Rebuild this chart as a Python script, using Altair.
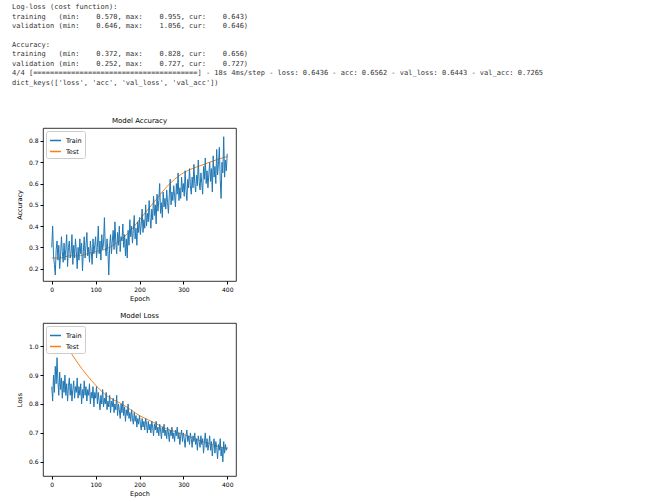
import altair as alt
import pandas as pd

# ---- training history (every 2 epochs) ----
train_epochs = list(range(0, 401, 2))
train_acc = [
    0.30, 0.40, 0.26, 0.22, 0.17, 0.29, 0.33, 0.24, 0.31, 0.20,
    0.26, 0.35, 0.28, 0.23, 0.32, 0.24, 0.29, 0.36, 0.21, 0.30,
    0.33, 0.25, 0.27, 0.36, 0.22, 0.31, 0.25, 0.34, 0.28, 0.20,
    0.30, 0.24, 0.34, 0.27, 0.32, 0.19, 0.28, 0.35, 0.25, 0.31,
    0.37, 0.26, 0.30, 0.23, 0.33, 0.28, 0.22, 0.34, 0.27, 0.31,
    0.35, 0.25, 0.30, 0.40, 0.27, 0.33, 0.24, 0.36, 0.29, 0.32,
    0.44, 0.30, 0.26, 0.34, 0.28, 0.17, 0.31, 0.36, 0.27, 0.33,
    0.38, 0.29, 0.42, 0.32, 0.27, 0.37, 0.31, 0.40, 0.28, 0.35,
    0.33, 0.41, 0.30, 0.36, 0.26, 0.34, 0.25, 0.38, 0.31, 0.43,
    0.35, 0.40, 0.32, 0.38, 0.45, 0.34, 0.39, 0.31, 0.42, 0.37,
    0.44, 0.36, 0.41, 0.48, 0.37, 0.43, 0.39, 0.50, 0.40, 0.46,
    0.42, 0.52, 0.44, 0.39, 0.48, 0.43, 0.54, 0.45, 0.50, 0.41,
    0.55, 0.47, 0.52, 0.60, 0.46, 0.51, 0.44, 0.56, 0.49, 0.53,
    0.48, 0.57, 0.51, 0.46, 0.55, 0.62, 0.50, 0.56, 0.52, 0.59,
    0.54, 0.49, 0.60, 0.55, 0.65, 0.52, 0.58, 0.53, 0.63, 0.56,
    0.60, 0.54, 0.66, 0.57, 0.52, 0.62, 0.58, 0.67, 0.59, 0.55,
    0.63, 0.58, 0.69, 0.60, 0.56, 0.64, 0.59, 0.71, 0.61, 0.57,
    0.65, 0.60, 0.55, 0.68, 0.62, 0.72, 0.60, 0.66, 0.58, 0.64,
    0.70, 0.61, 0.67, 0.56, 0.73, 0.63, 0.68, 0.60, 0.76, 0.64,
    0.69, 0.77, 0.62, 0.53, 0.70, 0.65, 0.82, 0.63, 0.71, 0.66,
    0.74,
]
train_loss = [
    0.86, 0.81, 0.90, 0.84, 0.93, 0.87, 0.96, 0.88, 0.83, 0.91,
    0.85, 0.89, 0.82, 0.88, 0.84, 0.90, 0.83, 0.87, 0.81, 0.86,
    0.89, 0.83, 0.87, 0.81, 0.85, 0.88, 0.82, 0.86, 0.84, 0.89,
    0.82, 0.86, 0.83, 0.87, 0.80, 0.85, 0.82, 0.88, 0.83, 0.86,
    0.81, 0.85, 0.83, 0.87, 0.80, 0.84, 0.82, 0.86, 0.79, 0.84,
    0.82, 0.86, 0.80, 0.84, 0.81, 0.78, 0.83, 0.80, 0.85, 0.79,
    0.82, 0.80, 0.84, 0.78, 0.81, 0.79, 0.83, 0.77, 0.81, 0.79,
    0.82, 0.77, 0.80, 0.78, 0.83, 0.76, 0.80, 0.78, 0.75, 0.80,
    0.77, 0.81, 0.76, 0.79, 0.74, 0.78, 0.76, 0.80, 0.75, 0.77,
    0.74, 0.78, 0.75, 0.73, 0.77, 0.74, 0.76, 0.72, 0.75, 0.73,
    0.76, 0.73, 0.71, 0.75, 0.72, 0.74, 0.71, 0.75, 0.73, 0.70,
    0.74, 0.71, 0.73, 0.70, 0.74, 0.72, 0.69, 0.73, 0.71, 0.74,
    0.70, 0.72, 0.69, 0.73, 0.71, 0.68, 0.72, 0.70, 0.73, 0.69,
    0.71, 0.68, 0.72, 0.70, 0.67, 0.71, 0.69, 0.72, 0.68, 0.70,
    0.67, 0.71, 0.69, 0.72, 0.68, 0.70, 0.66, 0.69, 0.71, 0.67,
    0.70, 0.68, 0.65, 0.69, 0.71, 0.67, 0.69, 0.66, 0.70, 0.68,
    0.65, 0.69, 0.67, 0.70, 0.66, 0.68, 0.64, 0.69, 0.67, 0.65,
    0.69, 0.66, 0.68, 0.63, 0.67, 0.70, 0.65, 0.68, 0.64, 0.66,
    0.69, 0.64, 0.67, 0.62, 0.66, 0.68, 0.63, 0.67, 0.65, 0.61,
    0.66, 0.64, 0.68, 0.62, 0.65, 0.60, 0.67, 0.63, 0.66, 0.64,
    0.65,
]

# ---- validation history (smooth, every 20 epochs) ----
val_epochs = list(range(0, 401, 20))
val_acc = [
    0.25, 0.25, 0.26, 0.26, 0.27, 0.28, 0.29, 0.31, 0.34, 0.38,
    0.43, 0.48, 0.53, 0.58, 0.62, 0.65, 0.67, 0.685, 0.70, 0.715,
    0.727,
]
val_loss = [
    1.056, 1.03, 0.985, 0.94, 0.90, 0.865, 0.835, 0.815, 0.80, 0.78,
    0.76, 0.745, 0.73, 0.715, 0.705, 0.695, 0.683, 0.672, 0.662, 0.653,
    0.646,
]

series_names = ["Train", "Test"]
series_colors = ["#1f77b4", "#ff7f0e"]
x_ticks = [0, 100, 200, 300, 400]

log_lines = [
    "Log-loss (cost function):",
    "training   (min:    0.570, max:    0.955, cur:    0.643)",
    "validation (min:    0.646, max:    1.056, cur:    0.646)",
    "\u200b",
    "Accuracy:",
    "training   (min:    0.372, max:    0.828, cur:    0.656)",
    "validation (min:    0.252, max:    0.727, cur:    0.727)",
    "4/4 [" + "=" * 39 + "] - 18s 4ms/step - loss: 0.6436 - acc: 0.6562 - val_loss: 0.6443 - val_acc: 0.7265",
    "dict_keys(['loss', 'acc', 'val_loss', 'val_acc'])",
]
# keep runs of spaces intact in the rendered text
log_lines = [s.replace(" ", "\u00a0") for s in log_lines]

train_df = pd.DataFrame({"epoch": train_epochs, "acc": train_acc,
                         "loss": train_loss, "series": "Train"})
val_df = pd.DataFrame({"epoch": val_epochs, "acc": val_acc,
                       "loss": val_loss, "series": "Test"})


def history_panel(metric, title, y_title, y_domain, y_ticks):
    color = alt.Color(
        "series:N",
        scale=alt.Scale(domain=series_names, range=series_colors),
        legend=alt.Legend(
            title=None, orient="top-left", offset=3,
            fillColor="white", strokeColor="#cccccc", cornerRadius=2,
            padding=3, labelFontSize=6.5, labelFont="DejaVu Sans",
            symbolType="stroke", symbolSize=120, symbolStrokeWidth=1.5,
            rowPadding=1, labelOffset=4,
        ),
    )
    x = alt.X("epoch:Q",
              scale=alt.Scale(domain=[-20, 420], nice=False, zero=False),
              axis=alt.Axis(values=x_ticks, title="Epoch"))
    y = alt.Y(f"{metric}:Q",
              scale=alt.Scale(domain=y_domain, nice=False, zero=False),
              axis=alt.Axis(values=y_ticks, format=".1f", title=y_title))
    test = alt.Chart(val_df).mark_line(strokeWidth=1.0, interpolate="monotone").encode(
        x=x, y=y, color=color)
    train = alt.Chart(train_df).mark_line(strokeWidth=1.0).encode(x=x, y=y, color=color)
    return alt.layer(test, train).properties(
        width=193, height=153,
        title=alt.TitleParams(title, fontSize=7, fontWeight="normal",
                              font="DejaVu Sans", offset=4),
    )


acc_panel = history_panel("acc", "Model Accuracy", "Accuracy",
                          [0.142, 0.861], [0.2, 0.3, 0.4, 0.5, 0.6, 0.7, 0.8])
loss_panel = history_panel("loss", "Model Loss", "Loss",
                           [0.551, 1.08], [0.6, 0.7, 0.8, 0.9, 1.0])

chart = (
    alt.vconcat(acc_panel, loss_panel, spacing=9)
    .resolve_legend(color="independent")
    .properties(
        title=alt.TitleParams(
            log_lines, anchor="start", font="DejaVu Sans Mono", fontSize=7,
            fontWeight="normal", lineHeight=9.4, color="#333333",
            offset=31, dx=-4,
        ),
        padding={"left": 12, "top": 3, "right": 5, "bottom": 5},
        background="white",
    )
    .configure_view(stroke="black", strokeWidth=0.8)
    .configure_axis(
        domain=False, grid=False, ticks=True, tickSize=3, tickColor="black",
        labelFontSize=6, labelFont="DejaVu Sans", labelColor="black",
        titleFontSize=6.5, titleFont="DejaVu Sans", titleFontWeight="normal",
        titleColor="black", labelPadding=2,
    )
    .configure_axisY(titlePadding=6)
    .configure_axisX(titlePadding=3)
)

chart.save("out.html", embed_options={"renderer": "svg", "actions": False})
